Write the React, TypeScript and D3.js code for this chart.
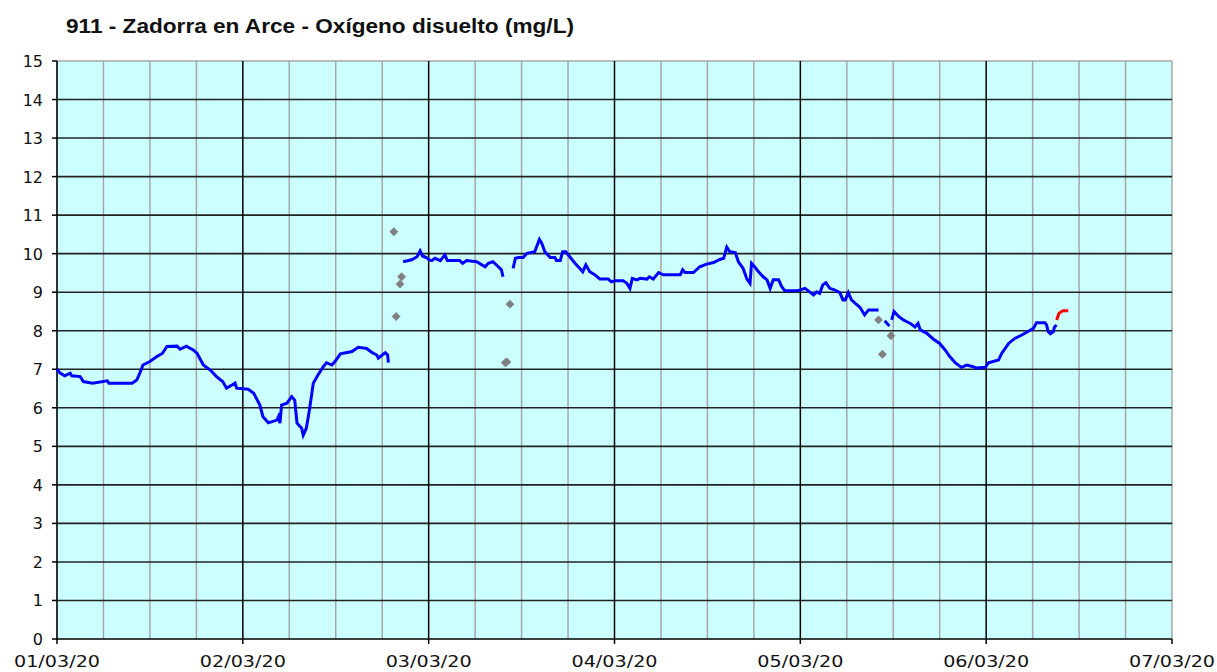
import React, { useEffect, useRef } from 'react';
import * as d3 from 'd3';

// hours since 01/03/20 00:00, dissolved oxygen mg/L
const seg1: [number, number][] = [
  [0, 7.0], [0.4, 6.9], [1.0, 6.83], [1.7, 6.9], [1.9, 6.83], [3.0, 6.81], [3.4, 6.68], [4.6, 6.64],
  [6.5, 6.7], [6.7, 6.64], [9.7, 6.64], [10.3, 6.72], [10.7, 6.9], [11.1, 7.11], [12.0, 7.2],
  [12.9, 7.33], [13.6, 7.41], [14.2, 7.59], [15.5, 7.6], [15.9, 7.52], [16.7, 7.6], [17.6, 7.5],
  [18.1, 7.41], [18.9, 7.11], [19.8, 6.98], [20.6, 6.81], [21.4, 6.68], [21.9, 6.51], [22.6, 6.59],
  [23.0, 6.64], [23.2, 6.51], [24.7, 6.48], [25.4, 6.38], [26.2, 6.07], [26.6, 5.77], [27.3, 5.61],
  [28.4, 5.68], [28.6, 5.77], [28.8, 5.6], [29.0, 6.07], [29.7, 6.12], [30.3, 6.29], [30.7, 6.2],
  [31.0, 5.6], [31.6, 5.47], [31.8, 5.29], [32.2, 5.47], [32.6, 5.94], [33.1, 6.64], [33.7, 6.85],
  [34.4, 7.07], [34.8, 7.17], [35.5, 7.11], [35.9, 7.2], [36.6, 7.4], [38.1, 7.46], [38.9, 7.57],
  [40.0, 7.54], [40.7, 7.43], [41.3, 7.37], [41.5, 7.29], [42.0, 7.37], [42.4, 7.43], [42.7, 7.37],
  [42.8, 7.17],
];

const seg2: [number, number][] = [
  [44.7, 9.79], [45.8, 9.84], [46.5, 9.92], [46.9, 10.07], [47.2, 9.94], [47.7, 9.9], [48.1, 9.84],
  [48.4, 9.82], [48.8, 9.88], [49.5, 9.82], [50.1, 9.97], [50.4, 9.82], [52.0, 9.82], [52.4, 9.75],
  [52.9, 9.82], [54.2, 9.79], [55.3, 9.66], [55.7, 9.75], [56.3, 9.79], [57.0, 9.66], [57.4, 9.58],
  [57.6, 9.4],
];

const seg3: [number, number][] = [
  [58.9, 9.62], [59.2, 9.88], [59.6, 9.9], [60.2, 9.9], [60.7, 10.01], [61.7, 10.05], [62.3, 10.37],
  [62.6, 10.27], [63.0, 10.05], [63.7, 9.9], [64.3, 9.9], [64.5, 9.82], [65.0, 9.82], [65.3, 10.05],
  [65.7, 10.05], [66.3, 9.9], [66.9, 9.75], [67.5, 9.62], [67.9, 9.53], [68.3, 9.71], [68.8, 9.53],
  [69.5, 9.45], [70.1, 9.34], [71.2, 9.34], [71.6, 9.27], [72.1, 9.3], [73.1, 9.3], [73.6, 9.23],
  [74.0, 9.1], [74.3, 9.36], [74.9, 9.32], [75.3, 9.36], [76.2, 9.34], [76.5, 9.4], [77.0, 9.34],
  [77.7, 9.51], [78.3, 9.45], [80.5, 9.45], [80.8, 9.58], [81.1, 9.51], [82.2, 9.51], [83.0, 9.66],
  [83.9, 9.73], [84.8, 9.77], [85.6, 9.85], [86.1, 9.88], [86.5, 10.17], [86.9, 10.05], [87.6, 10.03],
  [88.0, 9.79], [88.6, 9.62], [89.1, 9.34], [89.5, 9.23], [89.7, 9.75], [90.1, 9.66], [90.6, 9.53],
  [91.2, 9.4], [91.7, 9.32], [92.1, 9.1], [92.5, 9.32], [93.2, 9.32], [93.6, 9.14], [94.0, 9.04],
  [95.5, 9.04], [96.0, 9.06], [96.6, 9.1], [97.2, 9.01], [97.7, 8.93], [98.1, 9.01], [98.5, 8.97],
  [98.9, 9.19], [99.3, 9.25], [99.8, 9.1], [100.4, 9.06], [101.1, 8.99], [101.5, 8.8], [101.8, 8.8],
  [102.2, 8.99], [102.6, 8.8], [103.1, 8.71], [103.7, 8.61], [104.3, 8.41], [104.8, 8.54], [106.1, 8.54],
];

const seg4: [number, number][] = [[106.9, 8.26], [107.5, 8.12]];

const seg5: [number, number][] = [
  [107.8, 8.28], [108.1, 8.5], [108.7, 8.37], [109.3, 8.28], [109.7, 8.24], [110.2, 8.19], [110.8, 8.1],
  [111.2, 8.19], [111.5, 8.02], [112.3, 7.94], [113.2, 7.78], [114.0, 7.67], [114.7, 7.5], [115.3, 7.33],
  [116.0, 7.17], [116.8, 7.05], [117.5, 7.11], [118.1, 7.08], [118.8, 7.03], [119.9, 7.05], [120.3, 7.17],
  [121.6, 7.24], [122.0, 7.41], [122.9, 7.67], [123.7, 7.8], [124.6, 7.89], [125.4, 7.98], [126.1, 8.06],
  [126.5, 8.21], [127.6, 8.21], [127.8, 8.15], [128.0, 7.98], [128.3, 7.92], [128.7, 7.98], [128.8, 8.09],
  [129.1, 8.15],
];

const redSeg: [number, number][] = [[129.1, 8.28], [129.4, 8.45], [129.9, 8.52], [130.6, 8.52]];

const outliers: [number, number][] = [
  [43.5, 10.57], [44.5, 9.4], [44.3, 9.21], [43.8, 8.37], [58.5, 8.69], [57.9, 7.17], [58.1, 7.19],
  [106.1, 8.28], [107.7, 7.87], [106.6, 7.39],
];

const dayLabels = ['01/03/20', '02/03/20', '03/03/20', '04/03/20', '05/03/20', '06/03/20', '07/03/20'];
const yTicks = d3.range(0, 16);

export default function App() {
  const svgRef = useRef<SVGSVGElement>(null);
  const width = 1217;
  const height = 672;

  useEffect(() => {
    if (!svgRef.current) return;
    const svg = d3.select(svgRef.current);
    svg.selectAll('*').remove();

    const left = 57, right = 1172, top = 61, bottom = 639;
    const x = d3.scaleLinear().domain([0, 144]).range([left, right]);
    const y = d3.scaleLinear().domain([0, 15]).range([bottom, top]);

    svg.append('text')
      .attr('x', 66).attr('y', 33)
      .attr('font-family', '"Liberation Sans", Arial, sans-serif')
      .attr('font-weight', 'bold').attr('font-size', 19.5)
      .attr('textLength', 508).attr('lengthAdjust', 'spacingAndGlyphs')
      .attr('fill', '#111')
      .text('911 - Zadorra en Arce - Oxígeno disuelto (mg/L)');

    svg.append('rect')
      .attr('x', left).attr('y', top)
      .attr('width', right - left).attr('height', bottom - top)
      .attr('fill', '#ccffff');

    // minor verticals every 6h
    const minor = d3.range(6, 144, 6).filter((h) => h % 24 !== 0);
    svg.append('g').selectAll('line').data(minor).join('line')
      .attr('x1', (d) => x(d)).attr('x2', (d) => x(d))
      .attr('y1', top).attr('y2', bottom)
      .attr('stroke', '#a6a6a6').attr('stroke-width', 1.5);

    // borders top/right
    svg.append('line').attr('x1', left).attr('x2', right).attr('y1', top).attr('y2', top)
      .attr('stroke', '#a6a6a6').attr('stroke-width', 1.5);
    svg.append('line').attr('x1', right).attr('x2', right).attr('y1', top).attr('y2', bottom)
      .attr('stroke', '#a6a6a6').attr('stroke-width', 1.5);

    // horizontal grid
    svg.append('g').selectAll('line').data(yTicks.filter((v) => v > 0 && v < 15)).join('line')
      .attr('x1', left).attr('x2', right)
      .attr('y1', (d) => y(d)).attr('y2', (d) => y(d))
      .attr('stroke', '#222').attr('stroke-width', 1.6);

    // major verticals
    const major = d3.range(24, 144, 24);
    svg.append('g').selectAll('line').data(major).join('line')
      .attr('x1', (d) => x(d)).attr('x2', (d) => x(d))
      .attr('y1', top).attr('y2', bottom)
      .attr('stroke', '#000').attr('stroke-width', 1.5);

    // axes
    svg.append('line').attr('x1', left).attr('x2', left).attr('y1', top).attr('y2', bottom)
      .attr('stroke', '#000').attr('stroke-width', 1.6);
    svg.append('line').attr('x1', left).attr('x2', right).attr('y1', bottom).attr('y2', bottom)
      .attr('stroke', '#000').attr('stroke-width', 1.6);

    const font = '"DejaVu Sans", Verdana, sans-serif';
    const yg = svg.append('g');
    yg.selectAll('line').data(yTicks).join('line')
      .attr('x1', left - 5).attr('x2', left)
      .attr('y1', (d) => y(d)).attr('y2', (d) => y(d))
      .attr('stroke', '#000').attr('stroke-width', 1.5);
    yg.selectAll('text').data(yTicks).join('text')
      .attr('x', left - 14).attr('y', (d) => y(d) + 6)
      .attr('text-anchor', 'end')
      .attr('font-family', font).attr('font-size', 16)
      .attr('fill', '#111')
      .text((d) => String(d));

    const xg = svg.append('g');
    xg.selectAll('line').data(dayLabels).join('line')
      .attr('x1', (_, i) => x(i * 24)).attr('x2', (_, i) => x(i * 24))
      .attr('y1', bottom).attr('y2', bottom + 5)
      .attr('stroke', '#000').attr('stroke-width', 1.5);
    xg.selectAll('text').data(dayLabels).join('text')
      .attr('x', (_, i) => x(i * 24) - 43).attr('y', 667)
      .attr('font-family', font).attr('font-size', 16.5)
      .attr('textLength', 86).attr('lengthAdjust', 'spacingAndGlyphs')
      .attr('fill', '#111')
      .text((d) => d);

    const line = d3.line<[number, number]>()
      .x((d) => x(d[0]))
      .y((d) => y(d[1]));

    [seg1, seg2, seg3, seg4, seg5].forEach((seg) => {
      svg.append('path')
        .datum(seg)
        .attr('fill', 'none')
        .attr('stroke', '#0000ff')
        .attr('stroke-width', 3)
        .attr('d', line);
    });

    svg.append('path')
      .datum(redSeg)
      .attr('fill', 'none')
      .attr('stroke', '#ff0000')
      .attr('stroke-width', 3)
      .attr('d', line);

    const diamond = d3.symbol().type(d3.symbolDiamond2).size(50);
    svg.append('g').selectAll('path').data(outliers).join('path')
      .attr('transform', (d) => `translate(${x(d[0])},${y(d[1])})`)
      .attr('d', diamond)
      .attr('fill', '#808080');
  }, []);

  return (
    <div style={{ position: 'absolute', left: 0, top: 0 }}>
      <svg ref={svgRef} width={width} height={height} style={{ display: 'block', background: '#fff' }} />
    </div>
  );
}
